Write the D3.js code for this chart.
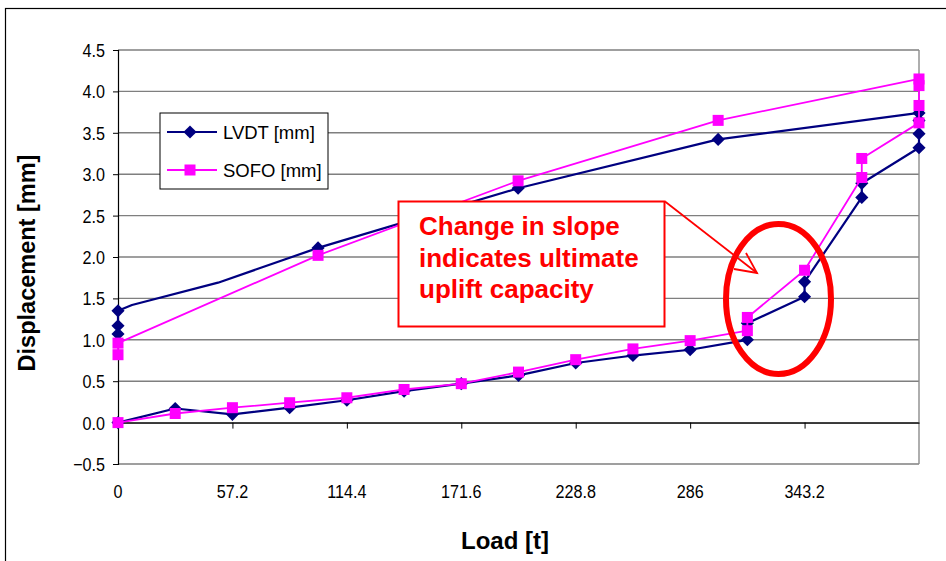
<!DOCTYPE html>
<html>
<head>
<meta charset="utf-8">
<script src="https://cdn.jsdelivr.net/npm/d3@7/dist/d3.min.js"></script>
<style>
  html, body { margin: 0; padding: 0; background: #fff; }
  svg { display: block; font-family: "Liberation Sans", Arial, sans-serif; }
</style>
</head>
<body>
<svg id="chart" width="946" height="561"></svg>
<script>
// ---- data ----
const lvdtLoad = [0, 28.6, 57.2, 85.8, 114.4, 143, 171.6, 200.2, 228.8, 257.4, 286, 314.6, 314.6, 343.2, 343.2, 371.8, 371.8, 400.4, 400.4, 400.4, 400.4, 300, 200, 100, 50, 7, 0, 0, 0];
const lvdtDisp = [0, 0.17, 0.10, 0.18, 0.27, 0.38, 0.47, 0.57, 0.72, 0.81, 0.88, 1.00, 1.20, 1.52, 1.70, 2.72, 2.89, 3.32, 3.49, 3.65, 3.74, 3.42, 2.83, 2.11, 1.69, 1.42, 1.35, 1.17, 1.07];
const lvdtMarker = [1, 1, 1, 1, 1, 1, 1, 1, 1, 1, 1, 1, 1, 1, 1, 1, 1, 1, 1, 1, 1, 1, 1, 1, 0, 0, 1, 1, 1];

const sofoLoad = [0, 28.6, 57.2, 85.8, 114.4, 143, 171.6, 200.2, 228.8, 257.4, 286, 314.6, 314.6, 343.2, 371.8, 371.8, 400.4, 400.4, 400.4, 400.4, 300, 200, 100, 0, 0];
const sofoDisp = [0, 0.11, 0.18, 0.24, 0.30, 0.40, 0.47, 0.61, 0.76, 0.89, 0.99, 1.11, 1.27, 1.84, 2.96, 3.19, 3.62, 3.83, 4.07, 4.15, 3.65, 2.92, 2.02, 0.96, 0.82];

const xTicks = [0, 57.2, 114.4, 171.6, 228.8, 286, 343.2];
const yTicks = [-0.5, 0, 0.5, 1, 1.5, 2, 2.5, 3, 3.5, 4, 4.5];
const seriesNames = ["LVDT [mm]", "SOFO [mm]"];
const noteLines = ["Change in slope", "indicates ultimate", "uplift capacity"];

// ---- layout ----
const svg = d3.select("#chart");
const L = 118, R = 919, T = 50, B = 464;
const x = d3.scaleLinear().domain([0, 400.4]).range([L, R]);
const y = d3.scaleLinear().domain([-0.5, 4.5]).range([B, T]);
const SX = 0.85; // condensed look of tick labels

// outer chart border
svg.append("rect").attr("x", 5.5).attr("y", 8.5).attr("width", 960).attr("height", 600)
  .attr("fill", "#fff").attr("stroke", "#000").attr("stroke-width", 1.2);

// gridlines
svg.append("g").selectAll("line").data(yTicks).join("line")
  .attr("x1", L).attr("x2", R).attr("y1", d => y(d)).attr("y2", d => y(d))
  .attr("stroke", "#7f7f7f").attr("stroke-width", 1.4);
// right border of plot
svg.append("line").attr("x1", R).attr("x2", R).attr("y1", T).attr("y2", B)
  .attr("stroke", "#8c8c8c").attr("stroke-width", 1.4);

// y axis
const yAxis = d3.axisLeft(y).tickValues(yTicks).tickSize(5).tickFormat("");
const gy = svg.append("g").attr("transform", `translate(${L},0)`).call(yAxis);
gy.select(".domain").attr("stroke", "#000").attr("stroke-width", 1.2);
gy.selectAll(".tick line").attr("stroke", "#000");
svg.append("g").selectAll("text").data(yTicks).join("text")
  .attr("transform", d => `translate(105,${y(d) + 7}) scale(${SX},1)`)
  .attr("text-anchor", "end").attr("font-size", 19).attr("fill", "#000")
  .text(d => d3.format(".1f")(d));

// x axis at y = 0
const xAxis = d3.axisBottom(x).tickValues(xTicks).tickFormat("").tickSize(6).tickSizeOuter(0);
const gx = svg.append("g").attr("transform", `translate(0,${y(0)})`).call(xAxis);
gx.select(".domain").attr("stroke", "#000").attr("stroke-width", 1.2);
gx.selectAll(".tick line").attr("stroke", "#000");
svg.append("g").selectAll("text").data(xTicks).join("text")
  .attr("transform", d => `translate(${x(d)},498) scale(${SX},1)`).attr("text-anchor", "middle")
  .attr("font-size", 19).attr("fill", "#000").text(d => d3.format("~g")(d));

// axis titles
svg.append("text").attr("x", 505).attr("y", 549).attr("text-anchor", "middle")
  .attr("font-size", 24).attr("font-weight", "bold").text("Load [t]");
svg.append("text").attr("transform", "translate(35,263) rotate(-90)").attr("text-anchor", "middle")
  .attr("font-size", 23.5).attr("font-weight", "bold").text("Displacement [mm]");

// series
const navy = "#000080", pink = "#ff00ff";
const line = d3.line().x(d => x(d[0])).y(d => y(d[1]));
const lv = lvdtLoad.map((l, i) => [l, lvdtDisp[i], lvdtMarker[i]]);
const so = sofoLoad.map((l, i) => [l, sofoDisp[i]]);

svg.append("path").attr("d", line(lv)).attr("fill", "none").attr("stroke", navy).attr("stroke-width", 2.2)
  .attr("stroke-linejoin", "round");
const diamond = d3.symbol().type(d3.symbolDiamond2).size(110);
svg.append("g").selectAll("path").data(lv.filter(d => d[2])).join("path")
  .attr("transform", d => `translate(${x(d[0])},${y(d[1])})`).attr("d", diamond).attr("fill", navy);

svg.append("path").attr("d", line(so)).attr("fill", "none").attr("stroke", pink).attr("stroke-width", 1.8)
  .attr("stroke-linejoin", "round");
svg.append("g").selectAll("rect").data(so).join("rect")
  .attr("x", d => x(d[0]) - 5.5).attr("y", d => y(d[1]) - 5.5).attr("width", 11).attr("height", 11).attr("fill", pink);

// legend
const lg = svg.append("g");
lg.append("rect").attr("x", 160).attr("y", 113).attr("width", 168).attr("height", 76)
  .attr("fill", "#fff").attr("stroke", "#000").attr("stroke-width", 1);
[[navy, 132, "d"], [pink, 170, "s"]].forEach((c, i) => {
  lg.append("line").attr("x1", 167).attr("x2", 217).attr("y1", c[1]).attr("y2", c[1]).attr("stroke", c[0]).attr("stroke-width", i ? 1.8 : 2.2);
  if (c[2] === "d") lg.append("path").attr("transform", `translate(190,${c[1]})`).attr("d", diamond).attr("fill", c[0]);
  else lg.append("rect").attr("x", 184.5).attr("y", c[1] - 5.5).attr("width", 11).attr("height", 11).attr("fill", c[0]);
  lg.append("text").attr("x", 223).attr("y", c[1] + 7).attr("font-size", 18.5).attr("fill", "#000").text(seriesNames[i]);
});

// annotation
const red = "#ff0000";
svg.append("rect").attr("x", 398.5).attr("y", 201.5).attr("width", 266).attr("height", 125)
  .attr("fill", "#fff").attr("stroke", red).attr("stroke-width", 2);
noteLines.forEach((t, i) => {
  svg.append("text").attr("x", 419).attr("y", 235 + i * 31.5).attr("font-size", 26)
    .attr("font-weight", "bold").attr("fill", red).text(t);
});
svg.append("line").attr("x1", 665).attr("y1", 201.5).attr("x2", 757).attr("y2", 273)
  .attr("stroke", red).attr("stroke-width", 1.8);
svg.append("polyline").attr("points", "746,253 757,273 734,269").attr("fill", "none")
  .attr("stroke", red).attr("stroke-width", 1.8);
svg.append("ellipse").attr("cx", 778.5).attr("cy", 299).attr("rx", 52.5).attr("ry", 75)
  .attr("fill", "none").attr("stroke", red).attr("stroke-width", 6);
</script>
</body>
</html>
